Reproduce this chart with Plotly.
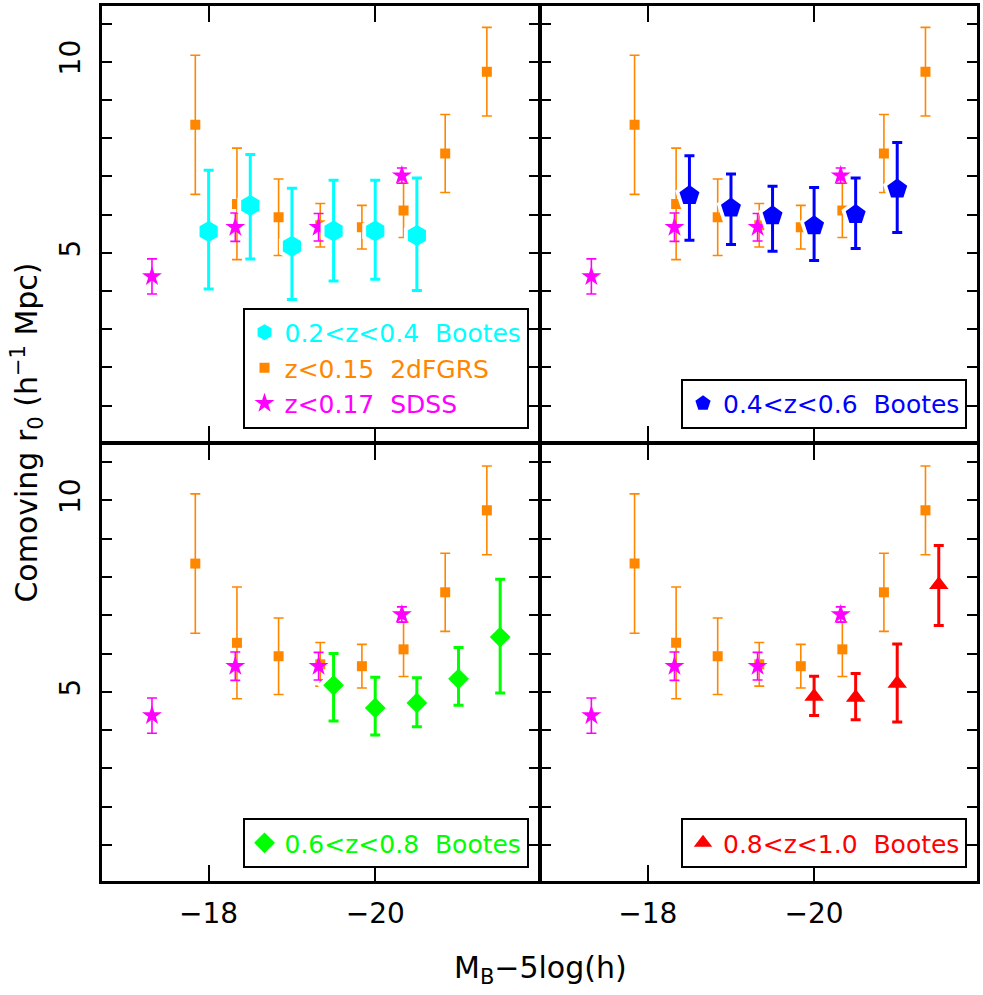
import plotly.graph_objects as go

# ---------------- data ----------------
# 2dFGRS, z<0.15 (same in all panels)
M_2df = [-17.84, -18.34, -18.84, -19.34, -19.84, -20.34, -20.84, -21.34]
r0_2df = [8.35, 6.28, 5.93, 5.72, 5.67, 6.11, 7.60, 9.74]
err_2df = [1.82, 1.46, 1.00, 0.57, 0.57, 0.71, 1.02, 1.16]

# SDSS, z<0.17 (same in all panels)
M_sdss = [-17.32, -18.32, -19.32, -20.32]
r0_sdss = [4.38, 5.67, 5.67, 7.02]
err_sdss = [0.46, 0.37, 0.36, 0.20]

# Bootes 0.2<z<0.4
M_z1 = [-18.0, -18.5, -19.0, -19.5, -20.0, -20.5]
r0_z1 = [5.56, 6.24, 5.17, 5.57, 5.57, 5.45]
ep_z1 = [1.60, 1.33, 1.52, 1.33, 1.33, 1.51]
em_z1 = [1.51, 1.40, 1.39, 1.31, 1.26, 1.44]

# Bootes 0.4<z<0.6
M_z2 = [-18.5, -19.0, -19.5, -20.0, -20.5, -21.0]
r0_z2 = [6.50, 6.17, 5.97, 5.71, 6.00, 6.67]
ep_z2 = [1.04, 0.89, 0.77, 1.00, 0.96, 1.22]
em_z2 = [1.17, 0.95, 0.93, 0.91, 0.89, 1.14]

# Bootes 0.6<z<0.8
M_z3 = [-19.5, -20.0, -20.5, -21.0, -21.5]
r0_z3 = [5.17, 4.58, 4.71, 5.34, 6.43]
ep_z3 = [0.83, 0.80, 0.66, 0.82, 1.51]
em_z3 = [0.93, 0.71, 0.62, 0.69, 1.46]

# Bootes 0.8<z<1.0
M_z4 = [-20.0, -20.5, -21.0, -21.5]
r0_z4 = [4.88, 4.85, 5.22, 7.80]
ep_z4 = [0.53, 0.63, 1.03, 1.02]
em_z4 = [0.50, 0.58, 1.01, 1.07]

y_tickvals = [5, 10]
x_tickvals = [-18, -20]

ORANGE = "rgb(255,135,0)"
MAGENTA = "#ff00ff"
FONT = "DejaVu Sans"

bootes = [
    (M_z1, r0_z1, ep_z1, em_z1, "#00ffff", "hexagon", 21, "0.2&lt;z&lt;0.4  Bootes"),
    (M_z2, r0_z2, ep_z2, em_z2, "#0000ff", "pentagon", 21, "0.4&lt;z&lt;0.6  Bootes"),
    (M_z3, r0_z3, ep_z3, em_z3, "#00ff00", "diamond", 16, "0.6&lt;z&lt;0.8  Bootes"),
    (M_z4, r0_z4, ep_z4, em_z4, "#ff0000", "triangle-up", 17, "0.8&lt;z&lt;1.0  Bootes"),
]

fig = go.Figure()

W, H = 983, 995
ml, mr, mt, mb = 102, 5, 3, 114
pw, ph = W - ml - mr, H - mt - mb

for i in range(4):
    k = "" if i == 0 else str(i + 1)
    xa, ya = "x" + k, "y" + k
    leg = "legend" + k
    first = i == 0
    # 2dFGRS
    fig.add_trace(go.Scatter(
        x=M_2df, y=r0_2df, xaxis=xa, yaxis=ya, mode="markers",
        marker=dict(symbol="square", size=10, color=ORANGE),
        error_y=dict(type="data", array=err_2df, color=ORANGE, thickness=1.6, width=5),
        name='<span style="color:%s">z&lt;0.15  2dFGRS</span>' % ORANGE,
        legend="legend", legendrank=2, showlegend=first))
    # SDSS
    fig.add_trace(go.Scatter(
        x=M_sdss, y=r0_sdss, xaxis=xa, yaxis=ya, mode="markers",
        marker=dict(symbol="star", size=15, color=MAGENTA),
        error_y=dict(type="data", array=err_sdss, color=MAGENTA, thickness=1.6, width=5),
        name='<span style="color:%s">z&lt;0.17  SDSS</span>' % MAGENTA,
        legend="legend", legendrank=3, showlegend=first))
    Mb, rb, ep, em, col, sym, sz, lab = bootes[i]
    # white halo behind Bootes symbols
    fig.add_trace(go.Scatter(
        x=Mb, y=rb, xaxis=xa, yaxis=ya, mode="markers",
        marker=dict(symbol=sym, size=sz + 9, color="white"),
        hoverinfo="skip", showlegend=False))
    fig.add_trace(go.Scatter(
        x=Mb, y=rb, xaxis=xa, yaxis=ya, mode="markers",
        marker=dict(symbol=sym, size=sz, color=col),
        error_y=dict(type="data", symmetric=False, array=ep, arrayminus=em,
                     color=col, thickness=3, width=5),
        name='<span style="color:%s">%s</span>' % (col, lab),
        legend=leg, legendrank=1, showlegend=True))

# axes
xdom = [[0, 437 / pw], [440 / pw, 1]]
ydom = [[(ph - 437) / ph, 1], [0, (ph - 440) / ph]]
layout = {}
for i in range(4):
    k = "" if i == 0 else str(i + 1)
    row, col = i // 2, i % 2
    layout["xaxis" + k] = dict(
        domain=xdom[col], anchor="y" + k, range=[-16.72, -21.96],
        tickvals=x_tickvals, ticks="inside", ticklen=16, tickwidth=2,
        tickcolor="black", showline=True, linewidth=3, linecolor="black",
        mirror="allticks", showgrid=False, zeroline=False,
        showticklabels=(row == 1), ticklabelstandoff=5,
        tickfont=dict(family=FONT, size=28, color="black"))
    layout["yaxis" + k] = dict(
        domain=ydom[row], anchor="x" + k, range=[0.06, 11.46],
        tickvals=y_tickvals, ticks="inside", ticklen=10,
        tickwidth=2, tickcolor="black", tickangle=-90,
        minor=dict(ticks="inside", ticklen=10, tickwidth=2, tickcolor="black",
                   tick0=0, dtick=1),
        showline=True, linewidth=3, linecolor="black", mirror="allticks",
        showgrid=False, zeroline=False, showticklabels=(col == 0),
        ticklabelstandoff=8,
        tickfont=dict(family=FONT, size=28, color="black"))

# legends placed at lower right of each panel
for i in range(4):
    k = "" if i == 0 else str(i + 1)
    row, col = i // 2, i % 2
    layout["legend" + k] = dict(
        x=xdom[col][1] - 10 / pw, y=ydom[row][0] + 13 / ph,
        xanchor="right", yanchor="bottom", xref="paper", yref="paper",
        bgcolor="white", bordercolor="black", borderwidth=2,
        font=dict(family=FONT, size=25, color="black"),
        traceorder="normal", tracegroupgap=0, itemsizing="trace")

fig.update_layout(
    width=W, height=H, margin=dict(l=ml, r=mr, t=mt, b=mb),
    paper_bgcolor="white", plot_bgcolor="white",
    font=dict(family=FONT, color="black"),
    **layout)

fig.add_annotation(
    text="M<sub>B</sub>\u22125log(h)", xref="paper", yref="paper",
    x=(541 - ml) / pw, y=(mt + ph - 970) / ph, xanchor="center", yanchor="middle",
    showarrow=False, font=dict(family=FONT, size=30, color="black"))
fig.add_annotation(
    text="Comoving r<sub>0</sub> (h<sup>\u22121</sup> Mpc)", xref="paper", yref="paper",
    x=(27 - ml) / pw, y=(mt + ph - 431) / ph, xanchor="center", yanchor="middle",
    textangle=-90, showarrow=False, font=dict(family=FONT, size=30, color="black"))

fig.write_html("out.html", config={"displayModeBar": False},
               post_script="document.body.style.margin='0px';")
